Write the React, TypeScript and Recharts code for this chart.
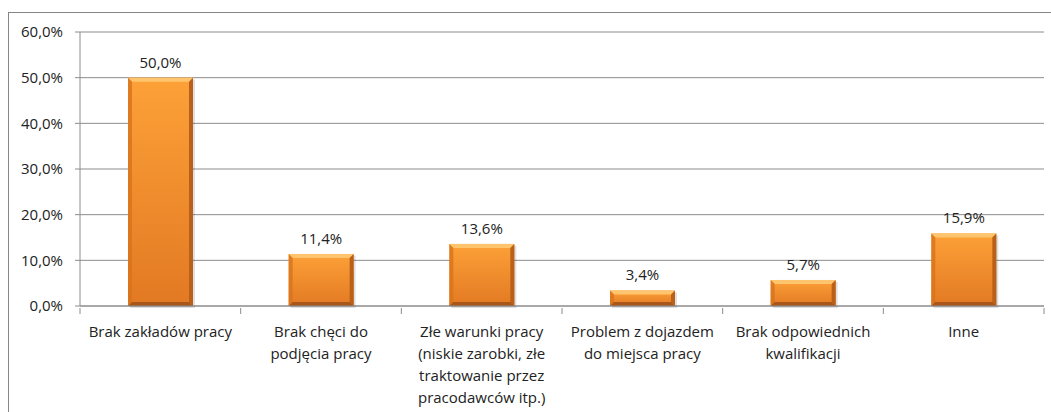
import { BarChart, Bar, XAxis, YAxis, CartesianGrid, LabelList } from "recharts";

const categories = [
  "Brak zakładów pracy",
  "Brak chęci do podjęcia pracy",
  "Złe warunki pracy (niskie zarobki, złe traktowanie przez pracodawców itp.)",
  "Problem z dojazdem do miejsca pracy",
  "Brak odpowiednich kwalifikacji",
  "Inne",
];

// how each category label wraps in the original
const categoryLines = [
  ["Brak zakładów pracy"],
  ["Brak chęci do", "podjęcia pracy"],
  ["Złe warunki pracy", "(niskie zarobki, złe", "traktowanie przez", "pracodawców itp.)"],
  ["Problem z dojazdem", "do miejsca pracy"],
  ["Brak odpowiednich", "kwalifikacji"],
  ["Inne"],
];

const values = [50.0, 11.4, 13.6, 3.4, 5.7, 15.9];

const yTicks = [0, 10, 20, 30, 40, 50, 60];

const data = categories.map((name, i) => ({ name, value: values[i] }));

const W = 1051;
const H = 412;
const PLOT_LEFT = 80;
const PLOT_RIGHT = 1044;
const FONT = "'Open Sans', sans-serif";
const FS = 15;
const GRID = "#8c8c8c";

const pct = (v: number) => v.toFixed(1).replace(".", ",") + "%";

function BevelBar(props: any) {
  const { x, y, width, height } = props;
  if (!height || height <= 0) return null;
  const b = Math.min(4, height / 3);
  return (
    <g>
      <rect x={x + 2} y={y + 2} width={width} height={height} fill="rgba(0,0,0,0.12)" />
      <rect x={x} y={y} width={width} height={height} fill="url(#barGrad)" />
      {/* top highlight */}
      <polygon
        points={`${x},${y} ${x + width},${y} ${x + width - b},${y + b} ${x + b},${y + b}`}
        fill="#ffc56e"
      />
      {/* left edge */}
      <polygon
        points={`${x},${y} ${x + b},${y + b} ${x + b},${y + height - b} ${x},${y + height}`}
        fill="#d9741c"
        opacity={0.85}
      />
      {/* right edge */}
      <polygon
        points={`${x + width},${y} ${x + width - b},${y + b} ${x + width - b},${y + height - b} ${x + width},${y + height}`}
        fill="#b9611a"
      />
      {/* bottom edge */}
      <polygon
        points={`${x},${y + height} ${x + b},${y + height - b} ${x + width - b},${y + height - b} ${x + width},${y + height}`}
        fill="#a9561a"
      />
    </g>
  );
}

function CategoryTick(props: any) {
  const { x, y, payload, index } = props;
  const band = (PLOT_RIGHT - PLOT_LEFT) / categories.length;
  const lines: string[] = categoryLines[index] ?? [payload.value];
  const y0 = y - 6;
  return (
    <g>
      <line x1={x - band / 2} y1={y0} x2={x - band / 2} y2={y0 + 6} stroke={GRID} />
      {index === categories.length - 1 && (
        <line x1={x + band / 2} y1={y0} x2={x + band / 2} y2={y0 + 6} stroke={GRID} />
      )}
      <text x={x} y={y0 + 29} textAnchor="middle" fill="#222" fontSize={FS} fontFamily={FONT}>
        {lines.map((l, i) => (
          <tspan key={i} x={x} dy={i === 0 ? 0 : 22}>
            {l}
          </tspan>
        ))}
      </text>
    </g>
  );
}

export default function App() {
  return (
    <div style={{ position: "fixed", left: 0, top: 0, width: W, height: H, background: "#fff", overflow: "hidden" }}>
      <div
        style={{
          position: "absolute",
          left: 8,
          top: 12,
          width: W,
          height: H,
          borderLeft: "1.5px solid #868686",
          borderTop: "1.5px solid #868686",
        }}
      />
      <div style={{ position: "absolute", left: 0, top: 0 }}>
        <BarChart width={W} height={H} data={data} margin={{ top: 32, right: W - PLOT_RIGHT, bottom: 0, left: 8 }}>
          <defs>
            <linearGradient id="barGrad" x1="0" y1="0" x2="0" y2="1">
              <stop offset="0%" stopColor="#fda138" />
              <stop offset="100%" stopColor="#e27923" />
            </linearGradient>
          </defs>
          <CartesianGrid vertical={false} stroke={GRID} />
          <YAxis
            width={72}
            domain={[0, 60]}
            ticks={yTicks}
            tickFormatter={pct}
            axisLine={{ stroke: GRID }}
            tickLine={{ stroke: GRID }}
            tickSize={5}
            tickMargin={12}
            tick={{ fill: "#222", fontSize: FS, fontFamily: FONT }}
            interval={0}
          />
          <XAxis
            dataKey="name"
            height={H - 306}
            axisLine={{ stroke: GRID }}
            tickLine={false}
            interval={0}
            tick={<CategoryTick />}
          />
          <Bar dataKey="value" barSize={65} shape={<BevelBar />} isAnimationActive={false}>
            <LabelList
              dataKey="value"
              position="top"
              offset={10}
              formatter={(v: any) => pct(Number(v))}
              fill="#222"
              fontSize={FS}
              fontFamily={FONT}
            />
          </Bar>
        </BarChart>
      </div>
    </div>
  );
}
